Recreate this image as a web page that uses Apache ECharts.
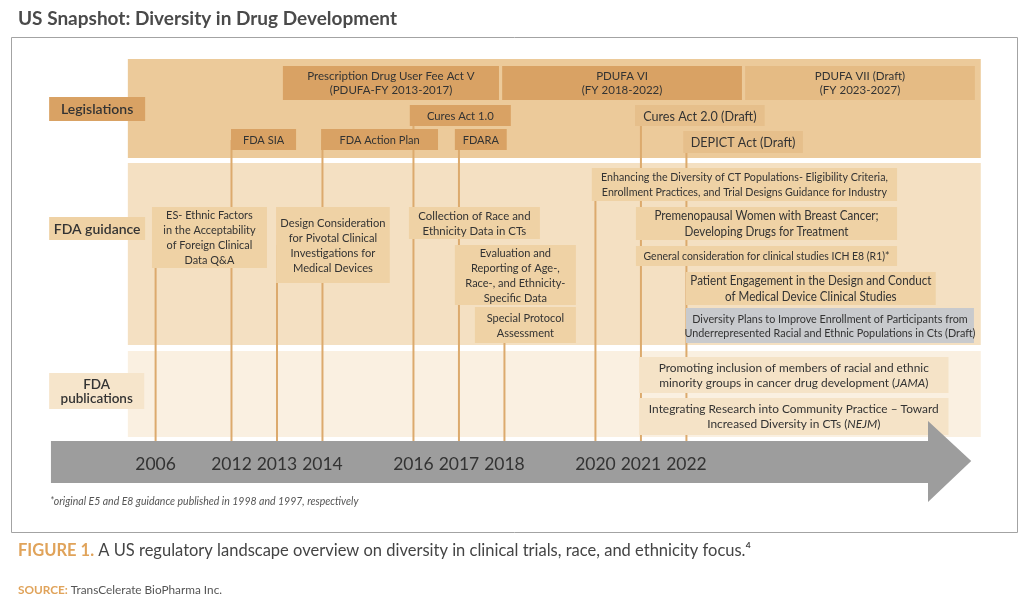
<!DOCTYPE html>
<html><head><meta charset="utf-8">
<script src="https://cdn.jsdelivr.net/npm/echarts@6/dist/echarts.min.js"></script>
<style>html,body{margin:0;padding:0;background:#fff}#c{width:1024px;height:608px}</style>
</head><body><div id="c"></div>
<script>
// ================= DATA =================
const timelineYears = [2006, 2012, 2013, 2014, 2016, 2017, 2018, 2020, 2021, 2022];

const rowLabels = ['Legislations', 'FDA guidance', 'FDA\npublications'];

const legislationNames = [
  'Prescription Drug User Fee Act V\n(PDUFA-FY 2013-2017)',
  'PDUFA VI\n(FY 2018-2022)',
  'PDUFA VII (Draft)\n(FY 2023-2027)',
  'Cures Act 1.0',
  'FDA SIA',
  'FDA Action Plan',
  'FDARA',
  'Cures Act 2.0 (Draft)',
  'DEPICT Act (Draft)'
];
const legislationYears = [2013, 2018, 2023, 2016, 2012, 2014, 2017, 2021, 2022];

const guidanceNames = [
  'ES- Ethnic Factors\nin the Acceptability\nof Foreign Clinical\nData Q&A',
  'Design Consideration\nfor Pivotal Clinical\nInvestigations for\nMedical Devices',
  'Collection of Race and\nEthnicity Data in CTs',
  'Evaluation and\nReporting of Age-,\nRace-, and Ethnicity-\nSpecific Data',
  'Special Protocol\nAssessment',
  'Enhancing the Diversity of CT Populations- Eligibility Criteria,\nEnrollment Practices, and Trial Designs Guidance for Industry',
  'Premenopausal Women with Breast Cancer;\nDeveloping Drugs for Treatment',
  'General consideration for clinical studies ICH E8 (R1)*',
  'Patient Engagement in the Design and Conduct\nof Medical Device Clinical Studies',
  'Diversity Plans to Improve Enrollment of Participants from\nUnderrepresented Racial and Ethnic Populations in Cts (Draft)'
];
const guidanceYears = [2006, 2013, 2016, 2017, 2018, 2020, 2021, 2021, 2022, 2022];

const publicationNames = [
  'Promoting inclusion of members of racial and ethnic\nminority groups in cancer drug development ({i|JAMA})',
  'Integrating Research into Community Practice \u2013 Toward\nIncreased Diversity in CTs ({i|NEJM})'
];
const publicationYears = [2021, 2022];

// milestone lines (one per labelled year)
const milestoneYears = [2006, 2012, 2013, 2014, 2016, 2017, 2018, 2020, 2021, 2022];

const titleText = 'US Snapshot: Diversity in Drug Development';
const footnoteText = '*original E5 and E8 guidance published in 1998 and 1997, respectively';
const captionText = '{o|FIGURE 1.} A US regulatory landscape overview on diversity in clinical trials, race, and ethnicity focus.\u2074';
const sourceText = '{o|SOURCE:} TransCelerate BioPharma Inc.';

// ================= LAYOUT (axis units: x = year, y = px from timeline, down +) =================
const bandLayout = [
  [2005.39, 2028.47, -402, -303],
  [2005.39, 2028.47, -298, -116],
  [2005.39, 2028.47, -110, -24]
];
const bandFill = ['#ecca9a', '#f4e0c2', '#faf0e1'];

const rowLayout = [
  [2003.66, 2005.77, -364, -340],
  [2003.66, 2005.77, -244, -221],
  [2003.66, 2005.75, -88, -52]
];
const rowStyle = [
  {fill: '#d9a264', fs: 14, sx: 1, lh: 16, fw: 600},
  {fill: '#efd2a5', fs: 14, sx: 1, lh: 16, fw: 600},
  {fill: '#f6e5cb', fs: 13.5, sx: 1, lh: 14, fw: 600}
];

const legislationLayout = [
  [2013.13, 2017.88, -395, -361],
  [2017.95, 2023.22, -395, -361],
  [2023.29, 2028.34, -395, -361],
  [2015.92, 2018.14, -356, -335],
  [2011.99, 2013.42, -332, -311],
  [2013.97, 2016.54, -332, -311],
  [2016.91, 2018.05, -332, -311],
  [2020.87, 2023.72, -356, -335],
  [2021.93, 2024.56, -330, -308]
];
const legislationStyle = [
  {fill: '#d9a264', fs: 12, sx: 0.96, lh: 14},
  {fill: '#d9a264', fs: 12, sx: 0.96, lh: 14},
  {fill: '#e5bb84', fs: 12, sx: 0.96, lh: 14},
  {fill: '#d9a264', fs: 12, sx: 0.94, lh: 14},
  {fill: '#d9a264', fs: 12, sx: 0.92, lh: 14},
  {fill: '#d9a264', fs: 12, sx: 0.92, lh: 14},
  {fill: '#d9a264', fs: 12, sx: 0.92, lh: 14},
  {fill: '#e6bf8b', fs: 14, sx: 0.9, lh: 16},
  {fill: '#e6bf8b', fs: 14, sx: 0.9, lh: 16}
];

const guidanceLayout = [
  [2005.92, 2012.78, -254, -193],
  [2012.98, 2015.48, -254, -178],
  [2015.90, 2018.78, -254, -222],
  [2016.91, 2019.57, -216, -156],
  [2017.35, 2019.57, -154, -118],
  [2019.92, 2026.63, -293, -260],
  [2020.89, 2026.63, -254, -221],
  [2020.89, 2026.63, -215, -195],
  [2021.99, 2027.48, -189, -156],
  [2021.99, 2028.32, -153, -118]
];
const G = '#efd2a5';
const guidanceStyle = [
  {fill: G, fs: 12, sx: 0.91, lh: 15},
  {fill: G, fs: 12, sx: 0.93, lh: 15},
  {fill: G, fs: 12, sx: 0.95, lh: 15},
  {fill: G, fs: 12, sx: 0.92, lh: 15},
  {fill: G, fs: 12, sx: 0.92, lh: 15},
  {fill: G, fs: 11.5, sx: 0.93, lh: 15},
  {fill: G, fs: 12.5, sx: 0.93, lh: 16},
  {fill: G, fs: 11, sx: 0.95, lh: 14},
  {fill: G, fs: 12.5, sx: 0.93, lh: 16},
  {fill: '#c8cacd', fs: 11.5, sx: 0.94, lh: 14}
];

const publicationLayout = [
  [2020.96, 2027.76, -104, -68],
  [2020.96, 2027.76, -63, -26]
];
const publicationStyle = [
  {fill: '#f5e3c7', fs: 12, sx: 0.99, lh: 15},
  {fill: '#f5e3c7', fs: 12, sx: 0.99, lh: 15}
];

const milestoneTop = [-224, -321, -216, -321, -345, -321, -136, -276, -345, -320];

const arrowShape = [[2003.70, -20], [2027.31, -20], [2027.31, -40], [2028.26, 0], [2027.31, 41], [2027.31, 22], [2003.70, 22]];

// ================= BUILD =================
const FONT = 'Lato, "Open Sans", "Noto Sans", sans-serif';
const TXT = '#333333';

const boxes = [];
function addBoxes(names, layout, styles) {
  names.forEach((n, i) => boxes.push({text: n, rect: layout[i], st: styles[i]}));
}
addBoxes(rowLabels, rowLayout, rowStyle);
addBoxes(legislationNames, legislationLayout, legislationStyle);
addBoxes(guidanceNames, guidanceLayout, guidanceStyle);
addBoxes(publicationNames, publicationLayout, publicationStyle);

function rectFrom(api, a) {
  const p0 = api.coord([a[0], a[2]]);
  const p1 = api.coord([a[1], a[3]]);
  return {
    x: Math.min(p0[0], p1[0]), y: Math.min(p0[1], p1[1]),
    width: Math.abs(p1[0] - p0[0]), height: Math.abs(p1[1] - p0[1])
  };
}

const chart = echarts.init(document.getElementById('c'), null, {renderer: 'canvas'});

chart.setOption({
  animation: false,
  backgroundColor: '#ffffff',
  grid: {left: 0, right: 0, top: 0, bottom: 0},
  xAxis: {
    type: 'value',
    min: 2002.58,
    max: 2029.42,
    breaks: [{start: 2006.3, end: 2011.7, gap: 1.068}],
    breakArea: {show: false},
    position: 'bottom',
    offset: -147,
    axisLine: {show: false, onZero: false},
    axisTick: {show: false},
    splitLine: {show: false},
    axisLabel: {
      customValues: timelineYears,
      formatter: v => String(Math.round(v)),
      fontFamily: FONT,
      fontSize: 17.5,
      color: '#333',
      margin: -6
    },
    z: 20
  },
  yAxis: {
    type: 'value', inverse: true, min: -461, max: 147, show: false
  },
  title: [
    {text: titleText, left: 18, top: 7, padding: 0,
      textStyle: {fontFamily: FONT, fontWeight: 'bold', fontSize: 19, color: '#4a4a4a', lineHeight: 24}},
    {text: footnoteText, left: 50, top: 496, padding: 0,
      textStyle: {fontFamily: FONT, fontStyle: 'italic', fontWeight: 'normal', fontSize: 10.5, color: '#555', lineHeight: 12}},
    {text: captionText, left: 18, top: 541, padding: 0,
      textStyle: {fontFamily: FONT, fontWeight: 'normal', fontSize: 16.5, color: '#444', lineHeight: 20,
        rich: {o: {fontFamily: FONT, fontWeight: 'bold', fontSize: 16.5, color: '#e0a35a', lineHeight: 20}}}},
    {text: sourceText, left: 18, top: 583, padding: 0,
      textStyle: {fontFamily: FONT, fontWeight: 'normal', fontSize: 11.8, color: '#555', lineHeight: 14,
        rich: {o: {fontFamily: FONT, fontWeight: 'bold', fontSize: 11.8, color: '#e0a35a', lineHeight: 14}}}}
  ],
  graphic: [
    {type: 'rect', shape: {x: 11.5, y: 37.5, width: 1006, height: 495},
      style: {fill: 'none', stroke: '#a3a3a3', lineWidth: 1}, z: 0}
  ],
  series: [
    {
      type: 'custom', name: 'bands', z: 1,
      data: bandLayout,
      renderItem: (params, api) => ({
        type: 'rect',
        shape: rectFrom(api, bandLayout[params.dataIndex]),
        style: {fill: bandFill[params.dataIndex]}
      })
    },
    {
      type: 'custom', name: 'milestones', z: 2,
      data: milestoneYears.map((y, i) => [y, milestoneTop[i]]),
      renderItem: (params, api) => {
        const a = api.coord([api.value(0), api.value(1)]);
        const b = api.coord([api.value(0), 0]);
        return {type: 'line', shape: {x1: a[0], y1: a[1], x2: b[0], y2: b[1]},
          style: {stroke: '#dcaa6d', lineWidth: 2}};
      }
    },
    {
      type: 'custom', name: 'boxes', z: 3,
      data: boxes.map(b => b.rect),
      renderItem: (params, api) => {
        const b = boxes[params.dataIndex];
        const r = rectFrom(api, b.rect);
        const st = b.st;
        return {
          type: 'group',
          children: [
            {type: 'rect', shape: r, style: {fill: st.fill}},
            {type: 'text', x: r.x + r.width / 2, y: r.y + r.height / 2 + 0.5,
              scaleX: st.sx, scaleY: 1,
              style: {
                text: b.text, x: 0, y: 0, align: 'center', verticalAlign: 'middle',
                fill: TXT, fontFamily: FONT, fontSize: st.fs, fontWeight: st.fw || 'normal',
                lineHeight: st.lh,
                rich: {i: {fontFamily: FONT, fontSize: st.fs, fontStyle: 'italic', fill: TXT, lineHeight: st.lh}}
              }}
          ]
        };
      }
    },
    {
      type: 'custom', name: 'arrow', z: 5,
      data: [[0]],
      renderItem: (params, api) => ({
        type: 'polygon',
        shape: {points: arrowShape.map(p => api.coord(p))},
        style: {fill: '#9d9d9d'}
      })
    }
  ]
});
</script>
</body></html>
